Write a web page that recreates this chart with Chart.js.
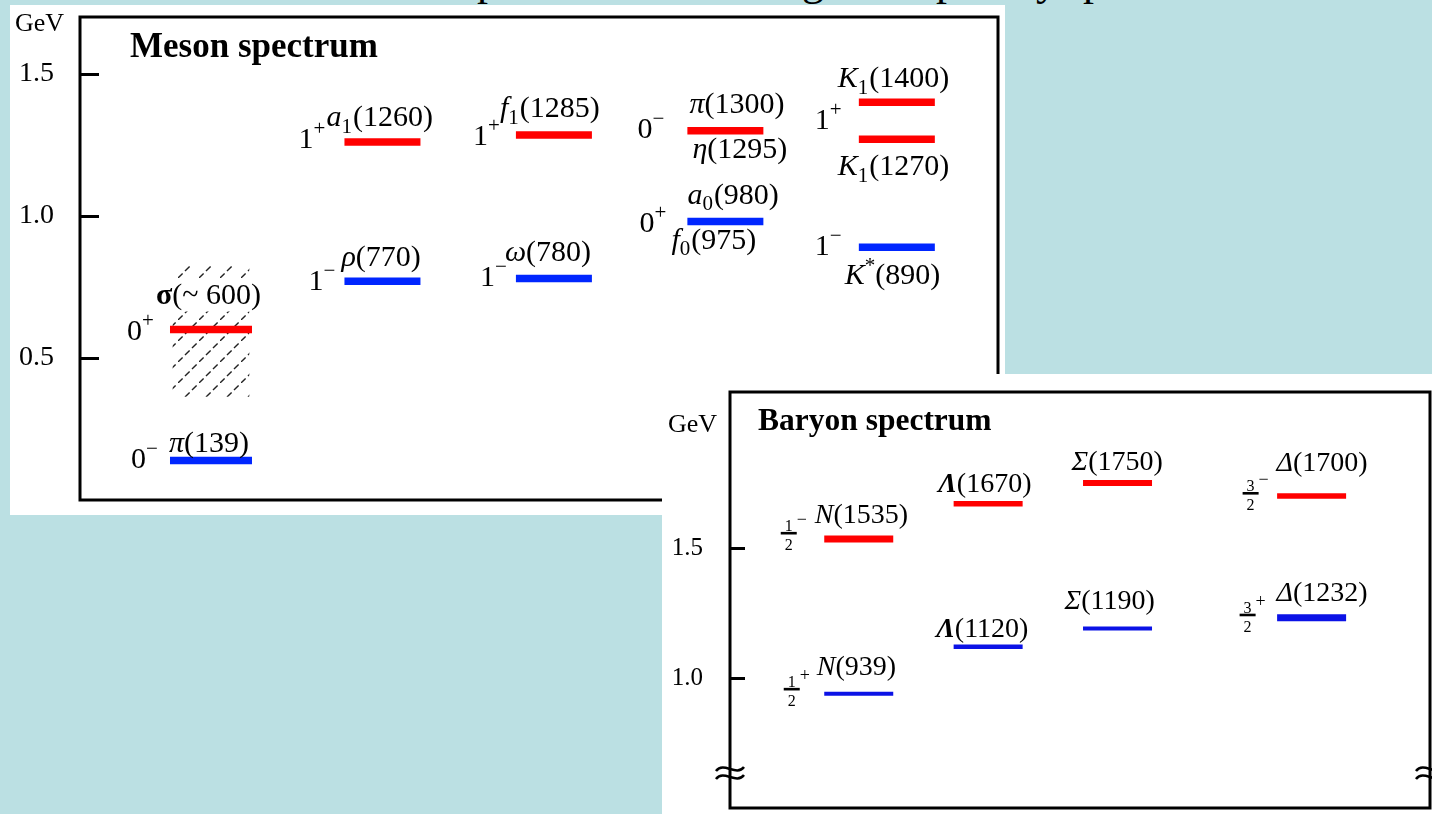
<!DOCTYPE html>
<html>
<head>
<meta charset="utf-8">
<title>Meson and baryon spectra</title>
<script src="https://cdn.jsdelivr.net/npm/chart.js@4.4.1/dist/chart.umd.min.js"></script>
<style>
  html, body { margin: 0; padding: 0; }
  body { width: 1432px; height: 814px; overflow: hidden; position: relative; background: #bbe0e3; }
  canvas { position: absolute; background: #fff; }
  #meson { left: 10px; top: 5px; }
  #baryon { left: 662px; top: 374px; }
  .frag { position: absolute; top: -41px; font: 44px "Liberation Serif", serif; line-height: 1; color: #000; }
</style>
</head>
<body>
<!-- descenders of the slide heading running off the top edge -->
<span class="frag" style="left:477px">p</span>
<span class="frag" style="left:802px">g</span>
<span class="frag" style="left:936px">p</span>
<span class="frag" style="left:1036px">y</span>
<span class="frag" style="left:1083px">p</span>

<canvas id="meson" width="995" height="510"></canvas>
<canvas id="baryon" width="770" height="440"></canvas>

<script>
// ---------------- meson levels (masses in MeV) ----------------
const mesonState   = ['π', 'σ', 'ρ', 'a_1', 'ω', 'f_1', 'π', 'a_0', 'K_1', 'K_1', 'K^*'];
const mesonMass    = [139, 600, 770, 1260, 780, 1285, 1300, 980, 1400, 1270, 890];
const mesonApprox  = [false, true, false, false, false, false, false, false, false, false, false];
const mesonColumn  = [0, 0, 1, 1, 2, 2, 3, 3, 4, 4, 4];
const mesonJP      = ['0-', '0+', '1-', '1+', '1-', '1+', '0-', '0+', '1+', '', '1-'];
const mesonExcited = [false, true, false, true, false, true, true, false, true, true, false];
const mesonPartner     = ['', '', '', '', '', '', 'η', 'f_0', '', '', ''];
const mesonPartnerMass = [null, null, null, null, null, null, 1295, 975, null, null, null];
const sigmaBand    = [365, 825];          // broad sigma region, MeV
const mesonTicks   = [0.5, 1.0, 1.5];     // GeV

// ---------------- baryon levels (masses in MeV) ----------------
const baryonState   = ['N', 'N', 'Λ', 'Λ', 'Σ', 'Σ', 'Δ', 'Δ'];
const baryonMass    = [939, 1535, 1120, 1670, 1190, 1750, 1232, 1700];
const baryonJP      = ['1/2+', '1/2-', '', '', '', '', '3/2+', '3/2-'];
const baryonExcited = [false, true, false, true, false, true, false, true];
const baryonTicks   = [1.0, 1.5];         // GeV

// ---------------- layout and styling ----------------
const SERIF = '"Liberation Serif", "Times New Roman", serif';
const RED = '#ff0000';
const BLUE_M = '#0026ff';
const BLUE_B = '#0b12e6';
const baryonSlot = { 'N': 0, 'Λ': 1, 'Σ': 2, 'Δ': 3.5 };
const symbolStyle = { 'σ': { it: false, b: true }, 'Λ': { b: true } };

// label offsets relative to the centre of each level bar: [dx, dy]
const mesonNameOff = [[-42, -9], [-55, -26], [-41, -15], [-56, -16], [-49, -17], [-54, -18],
                      [-36, -18], [-38, -18], [-59, -15], [-59, 36], [-52, 37]];
const mesonJPOff   = [[-80, 7], [-84, 10], [-74, 9], [-84, 6], [-74, 8], [-81, 10],
                      [-88, 7], [-86, 10], [-82, 27], null, [-82, 8]];
const mesonPartnerOff = { 6: [-33, 27], 7: [-54, 27] };
const mesonRadius  = i => (mesonColumn[i] === 0 ? 41 : 38);

const baryonNameOff = [[-42, -19], [-44, -16], [-52, -10], [-50, -12], [-53, -20], [-46, -13],
                       [-35, -17], [-35, -25]];
const baryonJPOff   = { 0: [-67, -5], 1: [-70, -6], 6: [-64, -3], 7: [-61, -3] };
const baryonThick   = [4, 7, 4.5, 5.5, 4, 6, 7, 5.5];

// ---------------- text helpers ----------------
function fontOf(s) { return `${s.it ? 'italic ' : ''}${s.b ? 'bold ' : ''}${s.size}px ${SERIF}`; }
function drawRich(ctx, x, y, segs) {
  let cx = x;
  for (const s of segs) {
    ctx.font = fontOf(s);
    ctx.fillText(s.t, cx, y + (s.dy || 0));
    cx += ctx.measureText(s.t).width + (s.gap || 0);
  }
  return cx - x;
}
function measureRich(ctx, segs) {
  let w = 0;
  for (const s of segs) { ctx.font = fontOf(s); w += ctx.measureText(s.t).width + (s.gap || 0); }
  return w;
}
// "a_1" -> italic a, subscript 1 ; "K^*" -> italic K, superscript *
function stateSegs(code, massText, size) {
  const base = code[0], rest = code.slice(1);
  const segs = [Object.assign({ t: base, size, it: true }, symbolStyle[base] || {})];
  if (rest.startsWith('_')) segs.push({ t: rest.slice(1), size: size * 0.7, dy: size * 0.23, gap: 1 });
  if (rest.startsWith('^')) segs.push({ t: rest.slice(1), size: size * 0.7, dy: -size * 0.42 });
  segs.push({ t: '(' + massText + ')', size });
  return segs;
}
function signChar(c) { return c === '+' ? '+' : '\u2212'; }

// ---------------- hatch for the broad sigma region ----------------
function makeHatch() {
  const s = 21, c = document.createElement('canvas');
  c.width = c.height = s;
  const g = c.getContext('2d');
  g.strokeStyle = '#222';
  g.lineWidth = 1.4;
  g.setLineDash([6.5, 3.4]);
  g.beginPath(); g.moveTo(0, s); g.lineTo(s, 0); g.stroke();
  return g.createPattern(c, 'repeat');
}

function drawBreak(ctx, x, y) {
  ctx.save();
  ctx.strokeStyle = '#000';
  ctx.lineWidth = 2.6;
  for (const dy of [-4, 4]) {
    ctx.beginPath();
    ctx.moveTo(x - 14, y + dy + 2);
    ctx.bezierCurveTo(x - 6, y + dy - 8, x + 6, y + dy + 8, x + 14, y + dy - 2);
    ctx.stroke();
  }
  ctx.restore();
}

function drawFrame(ctx, a, yScale, ticks, tickLen) {
  ctx.strokeStyle = '#000';
  ctx.lineWidth = 3;
  ctx.strokeRect(a.left, a.top, a.right - a.left, a.bottom - a.top);
  ctx.beginPath();
  ticks.forEach(v => {
    const py = Math.round(yScale.getPixelForValue(v)) + 0.5;
    ctx.moveTo(a.left, py);
    ctx.lineTo(a.left + tickLen, py);
  });
  ctx.stroke();
}

// value axis fitted to an exact width, without extra room for its end labels
const fitAxis = width => s => { s.width = width; s.paddingTop = 0; s.paddingBottom = 0; };

// ---------------- meson chart ----------------
const mesonPoints = excited => mesonMass
  .map((m, i) => ({ x: mesonColumn[i], y: m / 1000, i }))
  .filter(p => mesonExcited[p.i] === excited);

const mesonDecor = {
  id: 'mesonDecor',
  afterDatasetsDraw(chart) {
    const { ctx, chartArea: a, scales: { y } } = chart;
    ctx.save();
    drawFrame(ctx, a, y, mesonTicks, 19);
    ctx.fillStyle = '#000';
    ctx.textBaseline = 'alphabetic';
    ctx.textAlign = 'left';
    ctx.font = `26px ${SERIF}`;
    ctx.fillText('GeV', 5, a.top + 14);
    ctx.font = `bold 35px ${SERIF}`;
    ctx.fillText('Meson spectrum', a.left + 50, a.top + 40);

    chart.data.datasets.forEach((ds, di) => {
      if (ds.type === 'bar') return;
      chart.getDatasetMeta(di).data.forEach((pt, k) => {
        const i = ds.data[k].i;
        const cx = pt.x, cy = pt.y;
        const size = 30;
        const massText = (mesonApprox[i] ? '~ ' : '') + mesonMass[i];
        const segs = stateSegs(mesonState[i], massText, size);
        const [nx, ny] = mesonNameOff[i];
        if (mesonApprox[i]) {
          const w = measureRich(ctx, segs);
          ctx.fillStyle = '#fff';
          ctx.fillRect(cx + nx - 2, cy + ny - 24, w + 4, 32);
          ctx.fillStyle = '#000';
        }
        drawRich(ctx, cx + nx, cy + ny, segs);
        if (mesonPartner[i]) {
          const [px, py] = mesonPartnerOff[i];
          drawRich(ctx, cx + px, cy + py, stateSegs(mesonPartner[i], String(mesonPartnerMass[i]), size));
        }
        if (mesonJP[i]) {
          const [jx, jy] = mesonJPOff[i];
          drawRich(ctx, cx + jx, cy + jy, [
            { t: mesonJP[i][0], size },
            { t: signChar(mesonJP[i][1]), size: 21, dy: -13 }
          ]);
        }
      });
    });
    ctx.restore();
  }
};

new Chart(document.getElementById('meson'), {
  type: 'scatter',
  data: {
    datasets: [
      {
        type: 'bar',
        data: [{ x: mesonColumn[1], y: [sigmaBand[0] / 1000, sigmaBand[1] / 1000] }],
        backgroundColor: makeHatch(),
        borderWidth: 0,
        barThickness: 76,
        order: 5
      },
      {
        data: mesonPoints(false),
        pointStyle: 'line',
        pointRadius: c => mesonRadius(c.raw.i),
        pointHoverRadius: c => mesonRadius(c.raw.i),
        pointBorderWidth: 7.5,
        pointHoverBorderWidth: 7.5,
        borderColor: BLUE_M,
        pointBorderColor: BLUE_M,
        pointBackgroundColor: BLUE_M,
        order: 1
      },
      {
        data: mesonPoints(true),
        pointStyle: 'line',
        pointRadius: c => mesonRadius(c.raw.i),
        pointHoverRadius: c => mesonRadius(c.raw.i),
        pointBorderWidth: 7.5,
        pointHoverBorderWidth: 7.5,
        borderColor: RED,
        pointBorderColor: RED,
        pointBackgroundColor: RED,
        order: 1
      }
    ]
  },
  options: {
    responsive: false,
    animation: false,
    events: [],
    layout: { autoPadding: false, padding: { left: 0, top: 12, right: 7, bottom: 15 } },
    plugins: { legend: { display: false }, tooltip: { enabled: false } },
    scales: {
      x: { type: 'linear', display: false, offset: false, min: -0.764, max: 4.59,
           grid: { offset: false } },
      y: {
        type: 'linear', min: 0, max: 1.7, beginAtZero: false,
        afterBuildTicks: s => { s.ticks = mesonTicks.map(v => ({ value: v })); },
        afterFit: fitAxis(70),
        ticks: { callback: v => v.toFixed(1), color: '#000', padding: 26,
                 font: { family: SERIF, size: 28 } },
        grid: { display: false, drawTicks: false },
        border: { display: false }
      }
    }
  },
  plugins: [mesonDecor]
});

// ---------------- baryon chart ----------------
const baryonPoints = excited => baryonMass
  .map((m, i) => ({ x: baryonSlot[baryonState[i]], y: m / 1000, i }))
  .filter(p => baryonExcited[p.i] === excited);

const baryonDecor = {
  id: 'baryonDecor',
  afterDatasetsDraw(chart) {
    const { ctx, chartArea: a, scales: { y } } = chart;
    ctx.save();
    drawFrame(ctx, a, y, baryonTicks, 15);
    drawBreak(ctx, a.left, a.bottom - 35);
    drawBreak(ctx, a.right, a.bottom - 35);
    ctx.fillStyle = '#000';
    ctx.textBaseline = 'alphabetic';
    ctx.textAlign = 'left';
    ctx.font = `26px ${SERIF}`;
    ctx.fillText('GeV', 6, a.top + 40);
    ctx.font = `bold 31.5px ${SERIF}`;
    ctx.fillText('Baryon spectrum', a.left + 28, a.top + 38);

    chart.data.datasets.forEach((ds, di) => {
      chart.getDatasetMeta(di).data.forEach((pt, k) => {
        const i = ds.data[k].i;
        const cx = pt.x, cy = pt.y;
        const [nx, ny] = baryonNameOff[i];
        drawRich(ctx, cx + nx, cy + ny, stateSegs(baryonState[i], String(baryonMass[i]), 28));
        if (baryonJP[i]) {
          const [fx, fy] = baryonJPOff[i];
          const fcx = cx + fx, ly = cy + fy;
          const [num, rest] = baryonJP[i].split('/');
          ctx.font = `16px ${SERIF}`;
          ctx.textAlign = 'center';
          ctx.fillText(num, fcx, ly - 2);
          ctx.fillText(rest[0], fcx, ly + 17);
          ctx.fillRect(fcx - 8, ly - 1, 16, 2.6);
          ctx.textAlign = 'left';
          ctx.font = `18px ${SERIF}`;
          ctx.fillText(signChar(rest[1]), fcx + 8, ly - 8);
        }
      });
    });
    ctx.restore();
  }
};

const baryonDataset = (excited, color) => ({
  data: baryonPoints(excited),
  pointStyle: 'line',
  pointRadius: 34.5,
  pointHoverRadius: 34.5,
  pointBorderWidth: c => baryonThick[c.raw.i],
  pointHoverBorderWidth: c => baryonThick[c.raw.i],
  borderColor: color,
  pointBorderColor: color,
  pointBackgroundColor: color
});

new Chart(document.getElementById('baryon'), {
  type: 'scatter',
  data: { datasets: [baryonDataset(false, BLUE_B), baryonDataset(true, RED)] },
  options: {
    responsive: false,
    animation: false,
    events: [],
    layout: { autoPadding: false, padding: { left: 0, top: 18, right: 2, bottom: 6 } },
    plugins: { legend: { display: false }, tooltip: { enabled: false } },
    scales: {
      x: { type: 'linear', display: false, offset: false, min: -0.995, max: 4.415 },
      y: {
        type: 'linear', min: 0.5, max: 2.1,
        afterBuildTicks: s => { s.ticks = baryonTicks.map(v => ({ value: v })); },
        afterFit: fitAxis(68),
        ticks: { callback: v => v.toFixed(1), color: '#000', padding: 27,
                 font: { family: SERIF, size: 25 } },
        grid: { display: false, drawTicks: false },
        border: { display: false }
      }
    }
  },
  plugins: [baryonDecor]
});
</script>
</body>
</html>
